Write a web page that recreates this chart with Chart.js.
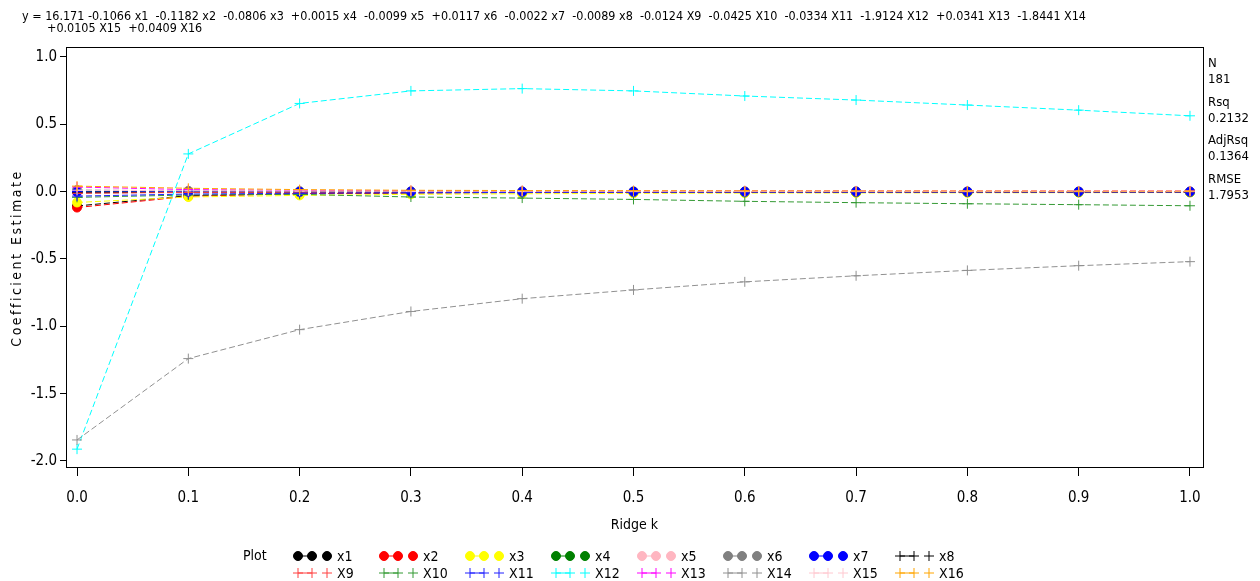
<!DOCTYPE html>
<html>
<head>
<meta charset="utf-8">
<script src="https://cdn.jsdelivr.net/npm/chart.js@4.4.1/dist/chart.umd.min.js"></script>
<style>
html, body { margin: 0; padding: 0; background: #fff; }
canvas { display: block; }
</style>
</head>
<body>
<canvas id="ridge" width="1260" height="581"></canvas>
<script>
// ridge trace values
const ridgeK = [0, 0.1, 0.2, 0.3, 0.4, 0.5, 0.6, 0.7, 0.8, 0.9, 1.0];
const intercept = 16.171;

const x1  = [-0.1066, -0.030, -0.015, -0.010, -0.008, -0.006, -0.005, -0.005, -0.004, -0.004, -0.003];
const x2  = [-0.1182, -0.035, -0.015, -0.009, -0.006, -0.005, -0.004, -0.003, -0.003, -0.003, -0.002];
const x3  = [-0.0806, -0.040, -0.028, -0.020, -0.016, -0.013, -0.011, -0.010, -0.009, -0.008, -0.007];
const x4  = [0.0015, -0.002, -0.003, -0.004, -0.004, -0.004, -0.004, -0.004, -0.004, -0.004, -0.004];
const x5  = [-0.0099, -0.004, -0.002, -0.001, -0.001, -0.001, -0.001, 0.000, 0.000, 0.000, 0.000];
const x6  = [0.0117, 0.006, 0.004, 0.003, 0.002, 0.002, 0.002, 0.002, 0.001, 0.001, 0.001];
const x7  = [-0.0022, -0.001, -0.001, 0.000, 0.000, 0.000, 0.000, 0.000, 0.000, 0.000, 0.000];
const x8  = [-0.0089, -0.005, -0.003, -0.003, -0.002, -0.002, -0.002, -0.002, -0.002, -0.002, -0.002];
const X9  = [-0.0124, -0.006, -0.004, -0.003, -0.003, -0.003, -0.002, -0.002, -0.002, -0.002, -0.002];
const X10 = [-0.0425, -0.025, -0.020, -0.040, -0.048, -0.058, -0.072, -0.082, -0.090, -0.097, -0.105];
const X11 = [-0.0334, -0.018, -0.012, -0.008, -0.006, -0.005, -0.004, -0.004, -0.003, -0.003, -0.003];
const X12 = [-1.9124, 0.280, 0.655, 0.748, 0.765, 0.748, 0.710, 0.680, 0.643, 0.605, 0.563];
const X13 = [0.0341, 0.015, 0.010, 0.008, 0.007, 0.006, 0.006, 0.005, 0.005, 0.005, 0.005];
const X14 = [-1.8441, -1.240, -1.025, -0.890, -0.795, -0.730, -0.670, -0.625, -0.585, -0.550, -0.520];
const X15 = [0.0105, 0.006, 0.004, 0.003, 0.003, 0.003, 0.002, 0.002, 0.002, 0.002, 0.002];
const X16 = [0.0409, 0.025, 0.015, 0.010, 0.008, 0.007, 0.006, 0.005, 0.005, 0.004, 0.004];

const seriesNames = ['x1', 'x2', 'x3', 'x4', 'x5', 'x6', 'x7', 'x8',
                     'X9', 'X10', 'X11', 'X12', 'X13', 'X14', 'X15', 'X16'];
const seriesValues = [x1, x2, x3, x4, x5, x6, x7, x8, X9, X10, X11, X12, X13, X14, X15, X16];
const seriesColors = ['#000000', '#ff0000', '#ffff00', '#008000', '#ffb6c1', '#808080', '#0000ff', '#000000',
                      '#ff4040', '#339933', '#2020ff', '#00ffff', '#ff00ff', '#909090', '#ffc8d0', '#ffa500'];
// first seven use filled circles, the rest use plus signs
const circleCount = 7;

const xTicks = [0, 0.1, 0.2, 0.3, 0.4, 0.5, 0.6, 0.7, 0.8, 0.9, 1.0];
const yTicks = [1.0, 0.5, 0.0, -0.5, -1.0, -1.5, -2.0];
const fitStats = [['N', '181'], ['Rsq', '0.2132'], ['AdjRsq', '0.1364'], ['RMSE', '1.7953']];

const fontFamily = '"Liberation Sans Narrow", "DejaVu Sans Condensed", "Arial Narrow", sans-serif';

function fmtCoef(v) {
    return (v >= 0 ? '+' : '-') + Math.abs(v).toFixed(4);
}

// equation line built from the k = 0 estimates
const eqParts = seriesNames.map((n, i) => fmtCoef(seriesValues[i][0]) + ' ' + n);
const eqLine1 = 'y = ' + intercept + ' ' + eqParts.slice(0, 14).join('  ');
const eqLine2 = eqParts.slice(14).join('  ');

const datasets = seriesNames.map((name, i) => {
    const isCircle = i < circleCount;
    return {
        label: name,
        data: ridgeK.map((k, j) => ({ x: k, y: seriesValues[i][j] })),
        borderColor: seriesColors[i],
        backgroundColor: seriesColors[i],
        borderWidth: 1,
        borderDash: [6, 3],
        pointStyle: isCircle ? 'circle' : 'cross',
        pointRadius: isCircle ? 4.5 : 5,
        pointBorderWidth: 1,
        pointBackgroundColor: seriesColors[i],
        pointBorderColor: seriesColors[i],
        tension: 0,
        order: seriesNames.length - i   // later series on top, like the SAS output
    };
});

const decorations = {
    id: 'decorations',
    afterDatasetsDraw(chart) {
        const ctx = chart.ctx;
        const a = chart.chartArea;
        ctx.save();
        ctx.strokeStyle = '#000';
        ctx.lineWidth = 1;
        ctx.strokeRect(Math.round(a.left) + 0.5, Math.round(a.top) + 0.5,
                       Math.round(a.right - a.left), Math.round(a.bottom - a.top));
        ctx.restore();
    },
    afterDraw(chart) {
        const ctx = chart.ctx;
        const a = chart.chartArea;
        ctx.save();
        ctx.fillStyle = '#000';

        // equation at the top, squeezed to the width of the original
        ctx.font = '12px ' + fontFamily;
        ctx.textBaseline = 'middle';
        ctx.textAlign = 'left';
        const w1 = ctx.measureText(eqLine1).width;
        const sx = 1064 / w1;
        ctx.save();
        ctx.translate(22, 17);
        ctx.scale(sx, 1);
        ctx.fillText(eqLine1, 0, 0);
        ctx.restore();
        ctx.save();
        ctx.translate(47, 29);
        ctx.scale(sx, 1);
        ctx.fillText(eqLine2, 0, 0);
        ctx.restore();

        // fit statistics on the right
        ctx.font = '13px ' + fontFamily;
        let sy = 64;
        fitStats.forEach(([lab, val]) => {
            ctx.fillText(lab, a.right + 5, sy);
            ctx.fillText(val, a.right + 5, sy + 16);
            sy += 38.5;
        });

        // axis titles
        ctx.font = '14px ' + fontFamily;
        ctx.textAlign = 'center';
        ctx.fillText('Ridge k', (a.left + a.right) / 2, 525);
        ctx.save();
        ctx.translate(17, (a.top + a.bottom) / 2 + 2);
        ctx.rotate(-Math.PI / 2);
        ctx.letterSpacing = '2.5px';
        ctx.fillText('Coefficient Estimate', 1, 0);
        ctx.restore();

        // two-row legend at the bottom
        ctx.textAlign = 'left';
        ctx.fillText('Plot', 243, 556);
        seriesNames.forEach((name, i) => {
            const col = i % 8;
            const row = i < 8 ? 0 : 1;
            const cx = 298 + col * 86;
            const cy = row === 0 ? 556 : 573;
            const ds = chart.data.datasets[i];
            ctx.strokeStyle = seriesColors[i];
            ctx.fillStyle = seriesColors[i];
            ctx.lineWidth = 1;
            ctx.setLineDash([]);
            ctx.beginPath();
            ctx.moveTo(cx, cy);
            ctx.lineTo(cx + 14, cy);
            ctx.stroke();
            const opts = { pointStyle: ds.pointStyle, radius: ds.pointRadius, borderWidth: 1, rotation: 0 };
            [cx, cx + 14, cx + 29].forEach(px => Chart.helpers.drawPoint(ctx, opts, px, cy));
            ctx.fillStyle = '#000';
            ctx.fillText(name, cx + 39, cy + 1);
        });
        ctx.restore();
    }
};

new Chart(document.getElementById('ridge'), {
    type: 'line',
    data: { datasets: datasets },
    options: {
        responsive: false,
        animation: false,
        layout: { padding: { left: 0, right: 57, top: 47, bottom: 0 } },
        plugins: {
            legend: { display: false },
            tooltip: { enabled: false }
        },
        scales: {
            x: {
                type: 'linear',
                min: -0.0099,
                max: 1.0117,
                afterFit: s => { s.height = 114; },
                afterBuildTicks: s => { s.ticks = xTicks.map(v => ({ value: v })); },
                grid: { drawOnChartArea: false, drawTicks: true, tickLength: 9, color: '#000' },
                border: { display: false },
                ticks: {
                    color: '#000',
                    padding: 13,
                    maxRotation: 0,
                    autoSkip: false,
                    font: { family: fontFamily, size: 15 },
                    callback: v => v.toFixed(1)
                }
            },
            y: {
                min: -2.045,
                max: 1.074,
                afterFit: s => { s.width = 66; },
                afterBuildTicks: s => { s.ticks = yTicks.map(v => ({ value: v })); },
                grid: { drawOnChartArea: false, drawTicks: true, tickLength: 6, color: '#000' },
                border: { display: false },
                ticks: {
                    color: '#000',
                    padding: 3,
                    autoSkip: false,
                    font: { family: fontFamily, size: 15 },
                    callback: v => v.toFixed(1)
                }
            }
        }
    },
    plugins: [decorations]
});
</script>
</body>
</html>
